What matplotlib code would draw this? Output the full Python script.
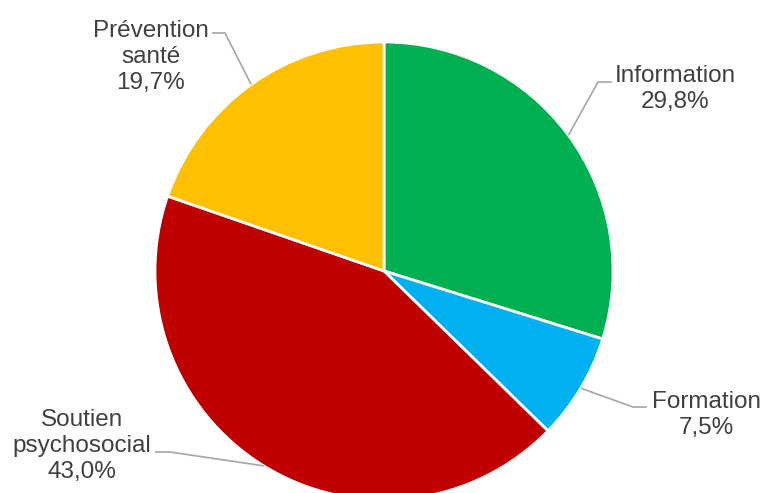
import numpy as np
import matplotlib
matplotlib.use('Agg')
import matplotlib.pyplot as plt

plt.rcParams['font.family'] = ['Liberation Sans', 'DejaVu Sans']

# Données du graphique
categories = ['Information', 'Formation', 'Soutien\npsychosocial', 'Prévention\nsanté']
valeurs = [29.8, 7.5, 43.0, 19.7]
couleurs = ['#00B050', '#00B0F0', '#C00000', '#FFC000']

W, H = 763, 493
cx, cy, r = 384, H - 271, 229

fig = plt.figure(figsize=(W / 100, H / 100), dpi=100)
ax = fig.add_axes([0, 0, 1, 1])

wedges, _ = ax.pie(valeurs, colors=couleurs, startangle=90, counterclock=False,
                   center=(cx, cy), radius=r,
                   wedgeprops=dict(edgecolor='white', linewidth=2))
ax.set_xlim(0, W)
ax.set_ylim(0, H)
ax.set_aspect('equal')
ax.axis('off')

# Position du texte, coude et fin de la ligne de rappel (en pixels, y vers le bas)
texte_pos = [(675, 89), (706, 415), (82, 446), (151, 57)]
coudes = [((598, 82), (612, 82)), ((633, 407), (647, 407)),
          ((170, 452), (155, 452)), ((225, 33), (212, 33))]

for w, cat, val, (tx, ty), (coude, fin) in zip(wedges, categories, valeurs, texte_pos, coudes):
    ang = np.deg2rad((w.theta1 + w.theta2) / 2)
    ax_, ay_ = cx + r * np.cos(ang), cy + r * np.sin(ang)
    xs = [ax_, coude[0], fin[0]]
    ys = [ay_, H - coude[1], H - fin[1]]
    ax.plot(xs, ys, color='#A6A6A6', lw=1.2, solid_capstyle='butt')
    etiquette = f"{cat}\n{val:.1f}%".replace('.', ',')
    ax.text(tx, H - ty, etiquette, ha='center', va='center', multialignment='center',
            fontsize=17.5, color='#404040', linespacing=1.25)

fig.savefig('out.png', dpi=100)
